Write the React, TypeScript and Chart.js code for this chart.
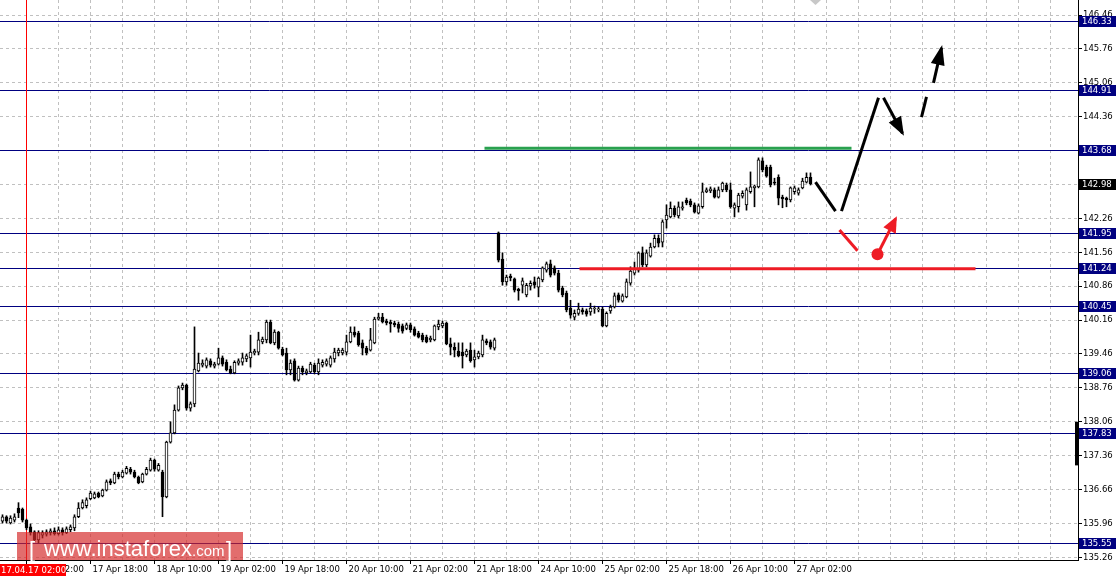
import React, { useEffect, useRef } from 'react';
import { Chart, registerables } from 'chart.js';

Chart.register(...registerables);

// ---------- data (H1 candles, bar index 0 = 17 Apr 02:00) ----------
const FIRST_BAR = -6;
const opens = [
  136.01, 136.10, 135.97, 136.03, 136.28, 136.26, 136.03, 135.89, 135.79, 135.62,
  135.72, 135.74, 135.77, 135.81, 135.75, 135.83, 135.77, 135.83, 135.87, 136.10,
  136.28, 136.33, 136.47, 136.49, 136.59, 136.53, 136.65, 136.84, 136.80, 136.98,
  136.92, 137.00, 137.08, 137.02, 136.92, 136.82, 136.98, 137.06, 137.27, 137.06,
  137.02, 136.51, 137.64, 137.83, 138.30, 138.76, 138.82, 138.34, 138.43, 139.11,
  139.23, 139.21, 139.32, 139.21, 139.25, 139.38, 139.29, 139.15, 139.07, 139.27,
  139.29, 139.36, 139.38, 139.48, 139.50, 139.71, 139.75, 140.12, 139.69, 139.91,
  139.56, 139.48, 139.13, 139.32, 138.92, 139.17, 139.07, 139.09, 139.23, 139.09,
  139.23, 139.25, 139.23, 139.36, 139.48, 139.48, 139.50, 139.71, 139.91, 139.89,
  139.69, 139.58, 139.54, 139.69, 140.18, 140.22, 140.14, 140.12, 140.10, 140.08,
  140.04, 139.99, 140.06, 139.98, 139.89, 139.85, 139.81, 139.75, 139.75, 140.02,
  140.04, 140.10, 139.67, 139.60, 139.52, 139.50, 139.44, 139.54, 139.34, 139.40,
  139.44, 139.73, 139.71, 139.58, 141.96, 141.42, 140.95, 141.07, 141.01, 140.80,
  140.88, 140.68, 140.86, 140.95, 140.84, 140.99, 141.19, 141.32, 141.24, 141.13,
  140.82, 140.72, 140.41, 140.22, 140.30, 140.37, 140.35, 140.33, 140.39, 140.37,
  140.39, 140.04, 140.35, 140.43, 140.68, 140.55, 140.64, 140.92, 141.13, 141.19,
  141.55, 141.30, 141.48, 141.67, 141.85, 141.77, 142.23, 142.29, 142.47, 142.31,
  142.47, 142.64, 142.62, 142.54, 142.37, 142.50, 142.81, 142.83, 142.85, 142.70,
  142.85, 142.95, 142.85, 142.47, 142.50, 142.72, 142.54, 142.81, 142.89, 142.91,
  143.45, 143.32, 143.32, 143.01, 143.11, 142.70, 142.68, 142.64, 142.81, 142.78,
  142.89, 143.01, 143.11,
];
const highs = [
  136.14, 136.12, 136.12, 136.16, 136.39, 136.28, 136.05, 135.95, 135.81, 135.81,
  135.81, 135.83, 135.85, 135.87, 135.89, 135.87, 135.89, 135.93, 136.14, 136.39,
  136.45, 136.49, 136.63, 136.61, 136.61, 136.67, 136.86, 136.88, 137.02, 137.02,
  137.06, 137.14, 137.12, 137.06, 136.94, 137.00, 137.12, 137.31, 137.29, 137.20,
  137.06, 137.66, 138.06, 138.41, 138.80, 138.86, 138.84, 138.47, 140.02, 139.48,
  139.34, 139.38, 139.36, 139.29, 139.58, 139.42, 139.34, 139.21, 139.32, 139.36,
  139.48, 139.46, 139.85, 139.56, 139.91, 139.81, 140.16, 140.16, 139.96, 139.93,
  139.60, 139.58, 139.34, 139.36, 139.21, 139.21, 139.15, 139.29, 139.27, 139.36,
  139.34, 139.36, 139.42, 139.58, 139.58, 139.58, 139.85, 140.02, 140.02, 139.93,
  139.75, 139.62, 139.99, 140.22, 140.30, 140.30, 140.18, 140.16, 140.14, 140.12,
  140.08, 140.10, 140.10, 140.02, 139.93, 139.89, 139.85, 139.83, 140.06, 140.16,
  140.14, 140.12, 139.79, 139.69, 139.69, 139.69, 139.56, 139.69, 139.54, 139.52,
  139.85, 139.77, 139.75, 139.79, 141.98, 141.55, 141.09, 141.11, 141.03, 140.82,
  141.03, 140.92, 140.97, 141.05, 141.05, 141.26, 141.36, 141.40, 141.28, 141.19,
  140.86, 140.76, 140.57, 140.37, 140.51, 140.41, 140.39, 140.51, 140.45, 140.43,
  140.43, 140.33, 140.47, 140.72, 140.72, 140.70, 141.01, 141.26, 141.36, 141.57,
  141.67, 141.61, 141.75, 141.92, 141.92, 142.23, 142.54, 142.60, 142.52, 142.60,
  142.60, 142.68, 142.66, 142.58, 142.56, 142.99, 142.89, 142.91, 142.89, 142.91,
  143.01, 142.99, 142.99, 142.58, 142.78, 142.83, 142.89, 143.22, 142.95, 143.51,
  143.51, 143.36, 143.36, 143.09, 143.16, 142.74, 142.70, 142.91, 142.93, 142.89,
  143.09, 143.20, 143.20,
];
const lows = [
  135.97, 135.97, 135.95, 135.99, 136.08, 135.99, 135.83, 135.72, 135.58, 135.56,
  135.66, 135.70, 135.72, 135.72, 135.72, 135.72, 135.75, 135.79, 135.81, 136.08,
  136.26, 136.28, 136.45, 136.47, 136.49, 136.51, 136.63, 136.76, 136.78, 136.88,
  136.90, 136.98, 136.98, 136.90, 136.78, 136.80, 136.96, 137.04, 137.04, 137.04,
  136.10, 136.49, 137.62, 137.81, 138.28, 138.72, 138.30, 138.28, 138.37, 139.09,
  139.19, 139.17, 139.19, 139.17, 139.23, 139.21, 139.11, 139.05, 139.05, 139.23,
  139.23, 139.30, 139.19, 139.44, 139.44, 139.67, 139.69, 139.67, 139.65, 139.56,
  139.42, 139.03, 139.03, 138.90, 138.90, 139.03, 139.03, 139.07, 139.05, 139.03,
  139.19, 139.21, 139.19, 139.29, 139.42, 139.44, 139.44, 139.69, 139.81, 139.62,
  139.44, 139.44, 139.52, 139.67, 140.16, 140.10, 140.06, 139.91, 140.02, 139.91,
  139.89, 139.96, 139.91, 139.83, 139.79, 139.71, 139.69, 139.71, 139.73, 139.96,
  140.00, 139.65, 139.44, 139.40, 139.40, 139.17, 139.40, 139.29, 139.19, 139.36,
  139.40, 139.65, 139.56, 139.54, 141.36, 140.88, 140.88, 140.97, 140.74, 140.57,
  140.72, 140.64, 140.78, 140.82, 140.64, 140.95, 141.15, 141.05, 141.09, 140.74,
  140.64, 140.33, 140.20, 140.16, 140.26, 140.28, 140.24, 140.26, 140.30, 140.33,
  140.02, 140.02, 140.30, 140.41, 140.53, 140.53, 140.62, 140.88, 141.09, 141.15,
  141.26, 141.26, 141.46, 141.65, 141.67, 141.67, 142.06, 142.27, 142.29, 142.27,
  142.43, 142.54, 142.50, 142.37, 142.35, 142.47, 142.79, 142.79, 142.68, 142.68,
  142.81, 142.81, 142.47, 142.29, 142.39, 142.68, 142.43, 142.78, 142.50, 142.89,
  143.22, 143.11, 142.91, 142.95, 142.54, 142.48, 142.50, 142.60, 142.76, 142.74,
  142.87, 142.99, 142.95,
];
const closes = [
  136.10, 136.01, 136.07, 136.10, 136.18, 136.03, 135.87, 135.77, 135.62, 135.77,
  135.77, 135.79, 135.81, 135.75, 135.83, 135.77, 135.85, 135.89, 136.10, 136.28,
  136.39, 136.45, 136.59, 136.57, 136.51, 136.65, 136.82, 136.80, 136.98, 136.92,
  137.02, 137.10, 137.02, 136.92, 136.80, 136.98, 137.08, 137.27, 137.08, 137.16,
  136.51, 137.64, 137.83, 138.30, 138.76, 138.82, 138.34, 138.43, 139.15, 139.27,
  139.27, 139.34, 139.23, 139.25, 139.38, 139.25, 139.13, 139.07, 139.29, 139.32,
  139.38, 139.42, 139.50, 139.52, 139.75, 139.77, 140.12, 139.69, 139.91, 139.58,
  139.44, 139.13, 139.27, 138.92, 139.17, 139.09, 139.11, 139.25, 139.09, 139.27,
  139.29, 139.32, 139.38, 139.50, 139.54, 139.54, 139.71, 139.91, 139.85, 139.65,
  139.58, 139.48, 139.75, 140.18, 140.22, 140.12, 140.10, 140.08, 140.06, 139.99,
  139.93, 140.06, 139.96, 139.85, 139.81, 139.75, 139.71, 139.79, 140.04, 140.08,
  140.10, 139.67, 139.60, 139.54, 139.42, 139.42, 139.52, 139.32, 139.40, 139.48,
  139.75, 139.69, 139.60, 139.75, 141.40, 140.95, 141.05, 141.03, 140.78, 140.76,
  140.97, 140.88, 140.92, 140.88, 141.03, 141.24, 141.32, 141.09, 141.13, 140.78,
  140.68, 140.37, 140.26, 140.30, 140.39, 140.33, 140.28, 140.41, 140.41, 140.39,
  140.04, 140.30, 140.43, 140.66, 140.57, 140.66, 140.95, 141.17, 141.21, 141.55,
  141.30, 141.55, 141.67, 141.85, 141.75, 142.19, 142.33, 142.47, 142.33, 142.50,
  142.50, 142.58, 142.54, 142.39, 142.52, 142.81, 142.85, 142.87, 142.70, 142.85,
  142.99, 142.85, 142.50, 142.54, 142.74, 142.78, 142.85, 142.91, 142.93, 143.47,
  143.26, 143.13, 142.95, 142.99, 142.68, 142.66, 142.64, 142.89, 142.89, 142.85,
  143.03, 143.11, 142.97,
];

const timeLabels = [
  '17 Apr 02:00', '17 Apr 18:00', '18 Apr 10:00', '19 Apr 02:00', '19 Apr 18:00',
  '20 Apr 10:00', '21 Apr 02:00', '21 Apr 18:00', '24 Apr 10:00', '25 Apr 02:00',
  '25 Apr 18:00', '26 Apr 10:00', '27 Apr 02:00',
];
const LABEL_EVERY = 16;
const GRID_EVERY = 8;
const GRID_LAST = 256;
const X_MIN = -6.625;
const X_MAX = 262.875;

const priceTicks = [
  146.46, 145.76, 145.06, 144.36, 143.66, 142.96, 142.26, 141.56, 140.86,
  140.16, 139.46, 138.76, 138.06, 137.36, 136.66, 135.96, 135.26,
];
const Y_MIN = 135.206;
const Y_MAX = 146.77;

const levelPrices = [146.33, 144.91, 143.68, 141.95, 141.24, 140.45, 139.06, 137.83, 135.55];
const bidPrice = 142.98;
const markerBar = 0;
const markerLabel = '17.04.17 02:00';
const sideMarker = [138.06, 137.16];

// annotation strokes (bar index, price)
const greenX = [114.5, 206.25];
const greenY = [143.71, 143.71];
const redX = [138.25, 237.25];
const redY = [141.22, 141.22];
const zigAX = [197.25, 202.25];
const zigAY = [143.01, 142.41];
const zigBX = [203.75, 213];
const zigBY = [142.41, 144.75];
const downArrowX = [214.25, 219];
const downArrowY = [144.75, 144.02];
const dashX = [223.75, 225];
const dashY = [144.35, 144.77];
const upArrowX = [226.75, 228.75];
const upArrowY = [145.06, 145.78];
const redDashX = [203.25, 207.75];
const redDashY = [142.02, 141.59];
const redDotX = [212.75];
const redDotY = [141.52];
const redArrowX = [212.75, 217.25];
const redArrowY = [141.52, 142.25];

const FONT = '"DejaVu Sans", Verdana, sans-serif';
const WM_FONT = '"Liberation Sans", Arial, sans-serif';
const FONT_SIZE = 8.5;

function mkLine(xs: number[], ys: number[], color: string, width: number, arrow?: { len: number; half: number }) {
  return {
    type: 'line' as const,
    data: xs.map((v, k) => ({ x: v, y: ys[k] })),
    borderColor: color,
    backgroundColor: color,
    borderWidth: width,
    pointRadius: 0,
    tension: 0,
    order: 1,
    borderCapStyle: 'butt',
    arrowHead: arrow,
  } as any;
}

const levelPlugin = {
  id: 'levels',
  beforeDatasetsDraw(chart: any) {
    const { ctx, chartArea, scales } = chart;
    const y = scales.y;
    const x = scales.x;
    ctx.save();
    ctx.lineWidth = 1;
    ctx.strokeStyle = '#000080';
    levelPrices.forEach((v) => {
      const py = Math.round(y.getPixelForValue(v)) + 0.5;
      ctx.beginPath();
      ctx.moveTo(chartArea.left, py);
      ctx.lineTo(chartArea.right, py);
      ctx.stroke();
    });
    const px = Math.floor(x.getPixelForValue(markerBar)) + 0.5;
    ctx.strokeStyle = '#ff0000';
    ctx.beginPath();
    ctx.moveTo(px, chartArea.top);
    ctx.lineTo(px, chartArea.bottom);
    ctx.stroke();
    ctx.restore();
  },
};

const arrowPlugin = {
  id: 'arrows',
  afterDatasetsDraw(chart: any) {
    const ctx = chart.ctx;
    chart.data.datasets.forEach((ds: any, i: number) => {
      if (!ds.arrowHead) return;
      const pts = chart.getDatasetMeta(i).data;
      const a = pts[pts.length - 2];
      const b = pts[pts.length - 1];
      const ang = Math.atan2(b.y - a.y, b.x - a.x);
      const c = Math.cos(ang);
      const s = Math.sin(ang);
      const tipX = b.x + 3 * c;
      const tipY = b.y + 3 * s;
      const bx = tipX - ds.arrowHead.len * c;
      const by = tipY - ds.arrowHead.len * s;
      const w = ds.arrowHead.half;
      ctx.save();
      ctx.fillStyle = ds.borderColor;
      ctx.beginPath();
      ctx.moveTo(tipX, tipY);
      ctx.lineTo(bx + w * s, by - w * c);
      ctx.lineTo(bx - w * s, by + w * c);
      ctx.closePath();
      ctx.fill();
      ctx.restore();
    });
  },
};

const overlayPlugin = {
  id: 'overlay',
  afterDraw(chart: any) {
    const { ctx, chartArea, scales } = chart;
    const y = scales.y;
    const x = scales.x;
    ctx.save();
    ctx.font = `${FONT_SIZE}px ${FONT}`;
    ctx.textBaseline = 'middle';
    ctx.textAlign = 'left';
    const boxX = chartArea.right + 1;
    const drawTag = (v: number, bg: string) => {
      const py = Math.round(y.getPixelForValue(v));
      ctx.fillStyle = bg;
      ctx.fillRect(boxX, py - 5, 37, 11);
      ctx.fillStyle = '#ffffff';
      ctx.fillText(v.toFixed(2), boxX + 3, py + 1);
    };
    levelPrices.forEach((v) => drawTag(v, '#000080'));
    drawTag(bidPrice, '#000000');

    // side marker at right axis
    const m1 = y.getPixelForValue(sideMarker[0]);
    const m2 = y.getPixelForValue(sideMarker[1]);
    ctx.fillStyle = '#000';
    ctx.fillRect(chartArea.right - 3, m1, 3, m2 - m1);

    // date marker tag
    const mx = x.getPixelForValue(markerBar);
    const tagL = Math.max(0, mx - 33);
    ctx.fillStyle = '#ff0000';
    ctx.fillRect(tagL, chartArea.bottom + 4, 66, 12);
    ctx.fillStyle = '#ffffff';
    ctx.fillText(markerLabel, tagL + 1, chartArea.bottom + 10.5);

    // top indicator
    ctx.fillStyle = '#c8c8c8';
    ctx.beginPath();
    ctx.moveTo(810, 0);
    ctx.lineTo(821, 0);
    ctx.lineTo(815.5, 5);
    ctx.closePath();
    ctx.fill();

    // watermark
    const wl = chartArea.left + 17;
    const wt = chartArea.bottom - 28;
    ctx.fillStyle = 'rgba(212, 40, 40, 0.68)';
    ctx.fillRect(wl, wt, 226, 28);
    ctx.fillStyle = '#ffffff';
    ctx.textBaseline = 'alphabetic';
    ctx.font = `22px ${WM_FONT}`;
    ctx.fillText('[', wl + 12, wt + 25);
    ctx.fillText('www.instaforex', wl + 27, wt + 24);
    ctx.font = `15px ${WM_FONT}`;
    ctx.fillText('.com', wl + 175, wt + 24);
    ctx.font = `22px ${WM_FONT}`;
    ctx.fillText(']', wl + 209, wt + 25);
    ctx.restore();
  },
};

export default function App() {
  const ref = useRef<HTMLCanvasElement | null>(null);

  useEffect(() => {
    document.body.style.margin = '0';
    const canvas = ref.current;
    if (!canvas) return;

    const bodies = opens.map((o, k) => ({ x: FIRST_BAR + k, y: [o, closes[k]] }));
    const wicks = lows.map((l, k) => ({ x: FIRST_BAR + k, y: [l, highs[k]] }));
    const bodyColors = opens.map((o, k) => (closes[k] >= o ? '#ffffff' : '#000000'));

    const gridTicks: number[] = [];
    for (let v = 0; v <= GRID_LAST; v += GRID_EVERY) gridTicks.push(v);
    const labelFor = (v: number) => {
      if (v % LABEL_EVERY !== 0) return '';
      const k = v / LABEL_EVERY;
      return k >= 0 && k < timeLabels.length ? timeLabels[k] : '';
    };

    const chart = new Chart(canvas, {
      type: 'bar',
      data: {
        datasets: [
          mkLine(greenX, greenY, '#2aa14f', 3),
          mkLine(redX, redY, '#ee1c25', 3),
          mkLine(zigAX, zigAY, '#000000', 3),
          mkLine(zigBX, zigBY, '#000000', 3),
          mkLine(downArrowX, downArrowY, '#000000', 3, { len: 19, half: 7 }),
          mkLine(dashX, dashY, '#000000', 3),
          mkLine(upArrowX, upArrowY, '#000000', 3, { len: 20, half: 7 }),
          mkLine(redDashX, redDashY, '#ee1c25', 3),
          mkLine(redArrowX, redArrowY, '#ee1c25', 3, { len: 16, half: 7 }),
          {
            type: 'line',
            data: redDotX.map((v, k) => ({ x: v, y: redDotY[k] })),
            showLine: false,
            pointRadius: 6,
            pointBackgroundColor: '#ee1c25',
            pointBorderWidth: 0,
            order: 0,
          } as any,
          {
            type: 'bar',
            data: bodies,
            backgroundColor: bodyColors,
            borderColor: '#000000',
            borderWidth: 1,
            borderSkipped: false,
            barThickness: 3,
            minBarLength: 1,
            grouped: false,
            order: 5,
          } as any,
          {
            type: 'bar',
            data: wicks,
            backgroundColor: '#000000',
            borderWidth: 0,
            barThickness: 1,
            grouped: false,
            order: 6,
          } as any,
        ],
      },
      options: {
        responsive: false,
        maintainAspectRatio: false,
        animation: false,
        events: [],
        layout: { padding: 0, autoPadding: false },
        plugins: { legend: { display: false }, tooltip: { enabled: false }, title: { display: false } },
        scales: {
          x: {
            type: 'linear',
            position: 'bottom',
            min: X_MIN,
            max: X_MAX,
            offset: false,
            afterBuildTicks: (s: any) => {
              s.ticks = gridTicks.map((v) => ({ value: v }));
            },
            afterFit: (s: any) => {
              s.height = 22;
              s.paddingLeft = 0;
              s.paddingRight = 0;
            },
            grid: {
              offset: false,
              color: '#c0c0c0',
              lineWidth: 1,
              drawTicks: true,
              tickLength: 4,
              tickWidth: 1,
              tickColor: (c: any) => (c.tick && labelFor(c.tick.value) ? '#000000' : 'rgba(0,0,0,0)'),
              tickBorderDash: [],
            },
            border: { display: true, color: '#000000', width: 1, dash: [3, 3] },
            ticks: {
              autoSkip: false,
              maxRotation: 0,
              minRotation: 0,
              align: 'start',
              labelOffset: 2,
              padding: 1,
              color: '#000000',
              font: { family: FONT, size: FONT_SIZE },
              callback: (v: any) => labelFor(Number(v)),
            },
          },
          y: {
            type: 'linear',
            position: 'right',
            min: Y_MIN,
            max: Y_MAX,
            beginAtZero: false,
            afterBuildTicks: (s: any) => {
              s.ticks = priceTicks.map((v) => ({ value: v }));
            },
            afterFit: (s: any) => {
              s.width = 42;
              s.paddingTop = 0;
              s.paddingBottom = 0;
            },
            grid: {
              color: '#c0c0c0',
              lineWidth: 1,
              drawTicks: true,
              tickLength: 4,
              tickWidth: 1,
              tickColor: '#000000',
              tickBorderDash: [],
            },
            border: { display: true, color: '#000000', width: 1, dash: [3, 3] },
            ticks: {
              padding: 1,
              color: '#000000',
              font: { family: FONT, size: FONT_SIZE },
              callback: (v: any) => Number(v).toFixed(2),
            },
          },
        },
      } as any,
      plugins: [levelPlugin, arrowPlugin, overlayPlugin],
    });

    return () => chart.destroy();
  }, []);

  return (
    <div style={{ width: 1120, height: 582, position: 'relative', background: '#ffffff' }}>
      <canvas ref={ref} width={1120} height={582} style={{ display: 'block' }} />
    </div>
  );
}
